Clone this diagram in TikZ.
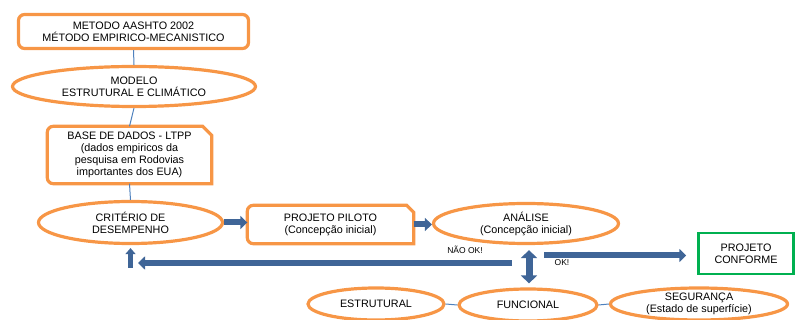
\documentclass[tikz,border=0pt]{standalone}
\usepackage{fontspec}
\setmainfont{Liberation Sans}
\usetikzlibrary{arrows.meta,shapes.geometric,calc}
\definecolor{orng}{HTML}{F79646}
\definecolor{barrow}{HTML}{3F6597}
\definecolor{lblue}{HTML}{4F81BD}
\definecolor{grn}{HTML}{00B050}
\begin{document}
\begin{tikzpicture}[x=1pt,y=-1pt,
  txt/.style={font=\fontsize{10.8}{12}\selectfont, align=center, inner sep=0pt},
  rbox/.style={txt, draw=orng, line width=3.2pt, rounded corners=6pt},
  oval/.style={txt, ellipse, draw=orng, line width=3.2pt},
  outline/.style={draw=orng, line width=3.2pt},
  link/.style={draw=lblue, line width=1pt},
  blk/.style={draw=barrow, line width=6pt, -{Triangle[length=7pt,width=13pt]}},
  dblk/.style={draw=barrow, line width=7pt, {Triangle[length=8pt,width=16pt]}-{Triangle[length=8pt,width=16pt]}},
  small/.style={font=\fontsize{8.5}{10}\selectfont, inner sep=0pt}]
\useasboundingbox (0,0) rectangle (795,320);

% nodes
\node[rbox, minimum width=230pt, minimum height=34pt] (aashto) at (133.5,31.5)
  {METODO AASHTO 2002\\MÉTODO EMPIRICO-MECANISTICO};
\node[oval, minimum width=243pt, minimum height=40pt] (modelo) at (134,86.5)
  {MODELO\\ESTRUTURAL E CLIMÁTICO};
\node[txt, minimum width=164pt, minimum height=57pt] (base) at (129.5,155)
  {BASE DE DADOS - LTPP\\(dados empiricos da\\pesquisa em Rodovias\\importantes dos EUA)};
\draw[outline] ($(base.north east)+(0,9)$) -- ($(base.north east)+(-9,0)$)
  [rounded corners=6pt] -- (base.north west) -- (base.south west) [sharp corners] -- (base.south east) -- cycle;
\node[oval, minimum width=184pt, minimum height=42pt] (criterio) at (130.5,222.5)
  {CRITÉRIO DE\\DESEMPENHO};
\node[txt, minimum width=166pt, minimum height=38pt] (piloto) at (330.5,224.5)
  {PROJETO PILOTO\\(Concepção inicial)};
\draw[outline] ($(piloto.north east)+(0,7)$) -- ($(piloto.north east)+(-7,0)$)
  [rounded corners=6pt] -- (piloto.north west) -- (piloto.south west) [sharp corners] -- (piloto.south east) -- cycle;
\node[oval, minimum width=185pt, minimum height=40pt] (analise) at (526,223.5)
  {ANÁLISE\\(Concepção inicial)};
\node[txt, draw=grn, line width=2.5pt, minimum width=95pt, minimum height=41pt] (conforme) at (746,253.5)
  {PROJETO\\CONFORME};
\node[oval, minimum width=136pt, minimum height=32pt] (estrutural) at (376,304) {ESTRUTURAL};
\node[oval, minimum width=138pt, minimum height=32pt] (funcional) at (528,305) {FUNCIONAL};
\node[oval, minimum width=177pt, minimum height=32pt] (seguranca) at (699,304)
  {SEGURANÇA\\(Estado de superfície)};

% labels
\node[small] (naook) at (465,250) {NÃO OK!};
\node[small] (ok) at (562,263) {OK!};

% thin links
\draw[link] (aashto.south) -- (modelo.north);
\draw[link] (modelo.south) -- (base.north);
\draw[link] (base.south) -- (criterio.north);
\draw[link] (estrutural.east) -- (funcional.west);
\draw[link] (funcional.east) -- (seguranca.west);

% block arrows
\coordinate (okstart) at (544,255.5);
\coordinate (nokstart) at (512,263);
\coordinate (nokend) at (138,263);
\coordinate (upstart) at (130.5,268);
\draw[blk] (criterio.east) -- (criterio.east -| piloto.west);
\draw[blk] (piloto.east) -- (piloto.east -| analise.west);
\draw[blk, shorten >=11pt] (okstart) -- (okstart -| conforme.west);
\draw[blk] (nokstart) -- (nokend);
\draw[draw=barrow, line width=5pt, -{Triangle[length=6pt,width=10pt]}, shorten >=3pt] (upstart) -- (criterio.south);
\draw[dblk, shorten <=5pt, shorten >=4pt] ($(analise.south)+(3,0)$) -- ($(funcional.north)+(1,0)$);
\end{tikzpicture}
\end{document}
